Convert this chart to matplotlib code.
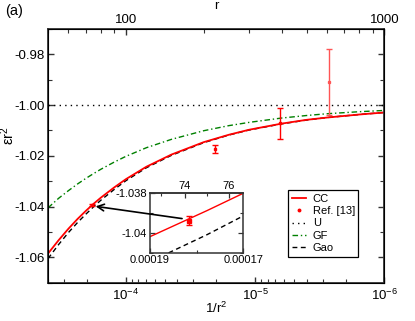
import numpy as np
import matplotlib
matplotlib.use('Agg')
import matplotlib.pyplot as plt
from matplotlib.ticker import MultipleLocator, NullFormatter, FixedLocator

plt.rcParams['font.family'] = ['Liberation Sans', 'DejaVu Sans']
plt.rcParams['mathtext.fontset'] = 'custom'
plt.rcParams['mathtext.rm'] = 'Liberation Sans'
plt.rcParams['mathtext.it'] = 'Liberation Sans:italic'
plt.rcParams['axes.unicode_minus'] = False
plt.rcParams['font.size'] = 9.5

r_grid = [50, 55, 60, 65, 70, 75, 80, 90, 100, 120, 150, 200, 250, 300, 400, 500, 600, 800, 1000]
cc = [-1.0585, -1.0532, -1.0487, -1.0449, -1.0417, -1.0389, -1.0365, -1.0325, -1.0292, -1.0243,
      -1.0195, -1.0146, -1.0117, -1.0097, -1.0073, -1.0058, -1.0049, -1.0037, -1.0029]
gao = [-1.0605, -1.0549, -1.0502, -1.0463, -1.0430, -1.0401, -1.0375, -1.0333, -1.0298, -1.0247,
       -1.0198, -1.0148, -1.0118, -1.0098, -1.0074, -1.0059, -1.0049, -1.0037, -1.0029]
gf = [-1.0405, -1.0367, -1.0337, -1.0311, -1.0289, -1.0270, -1.0253, -1.0225, -1.0202, -1.0168,
      -1.0135, -1.0101, -1.0081, -1.0068, -1.0051, -1.0041, -1.0034, -1.0026, -1.0021]
u_level = -1.0

# Ref. [13] points
ref_r = [74.2, 221, 396, 610]
ref_val = [-1.0394, -1.0172, -1.0072, -0.9910]
ref_err = [0.00023, 0.0016, 0.0060, 0.0130]

x = 1.0 / np.array(r_grid, dtype=float) ** 2
ref_x = 1.0 / np.array(ref_r, dtype=float) ** 2

red = '#ff0000'
green = '#008000'
spine_c = '#333333'

fig = plt.figure(figsize=(4.15, 3.21), dpi=100)
ax = fig.add_axes([0.1157, 0.1193, 0.8108, 0.7904])

ax.axhline(u_level, color='black', lw=1.0, ls=(0, (1, 3)), label='U')
ax.plot(x, gf, color=green, lw=1.0, ls=(0, (4, 2, 1, 2)), label='GF')
ax.plot(x, gao, color='black', lw=1.0, ls=(0, (3.5, 2.5)), label='Gao')
ax.plot(x, cc, color=red, lw=1.3, label='CC')
ax.errorbar(ref_x[:3], ref_val[:3], yerr=ref_err[:3], fmt='s', ms=1.6, color=red, ecolor=red,
            elinewidth=1.0, capsize=2, capthick=1.0)
ax.errorbar(ref_x[3:], ref_val[3:], yerr=ref_err[3:], fmt='s', ms=1.4, color='#ff5555',
            ecolor='#ff5555', elinewidth=1.0, capsize=2, capthick=1.0)
ax.plot([], [], 'o', ms=1.8, color=red, label='Ref. [13]')

ax.set_xscale('log')
ax.set_xlim(4.0e-4, 1e-6)
ax.set_ylim(-1.07, -0.97)
ax.yaxis.set_major_locator(MultipleLocator(0.02))
ax.yaxis.set_minor_locator(MultipleLocator(0.01))
ax.yaxis.set_major_formatter(plt.FuncFormatter(lambda v, p: '%.2f' % v))
ax.xaxis.set_minor_formatter(NullFormatter())
ax.tick_params(which='both', direction='in', right=True, top=False, color=spine_c)
ax.tick_params(which='major', length=4, width=1.0)
ax.tick_params(which='minor', length=2.6, width=0.8)
ax.tick_params(axis='y', pad=2.5)
ax.tick_params(axis='x', pad=4)
for s in ax.spines.values():
    s.set_linewidth(1.3)
    s.set_color(spine_c)

ax.set_xlabel('1/r$^2$', fontsize=9.5)
ax.xaxis.set_label_coords(0.5, -0.07)
ax.set_ylabel('εr$^2$', fontsize=10.5)
ax.yaxis.set_label_coords(-0.092, 0.578)

# top axis: r
ax2 = ax.twiny()
ax2.set_xscale('log')
ax2.set_xlim(50, 1000)
ax2.set_xticks([100, 1000])
ax2.set_xticklabels(['100', '1000'])
ax2.xaxis.set_minor_formatter(NullFormatter())
ax2.tick_params(which='both', direction='in', color=spine_c, pad=2)
ax2.tick_params(which='major', length=4, width=1.0)
ax2.tick_params(which='minor', length=2.6, width=0.8)
ax2.set_xlabel('r', labelpad=4)

handles, labels = ax.get_legend_handles_labels()
order = ['CC', 'Ref. [13]', 'U', 'GF', 'Gao']
hmap = dict(zip(labels, handles))
leg = ax.legend([hmap[k] for k in order], order, loc='lower left',
                bbox_to_anchor=(0.714, 0.1025), fontsize=8, frameon=True,
                fancybox=False, edgecolor='black', framealpha=1,
                handlelength=1.3, handletextpad=0.6, labelspacing=0.22,
                borderpad=0.3, borderaxespad=0)
leg.get_frame().set_linewidth(0.9)

# inset
ins = fig.add_axes([0.3614, 0.2128, 0.2253, 0.1875])
ins.plot(x, gao, color='black', lw=1.0, ls=(0, (3.5, 2.5)))
ins.plot(x, cc, color=red, lw=1.0)
ins.errorbar(ref_x[:1], ref_val[:1], yerr=ref_err[:1], fmt='s', ms=3, color=red,
             ecolor=red, elinewidth=1.0, capsize=2, capthick=1.0)
ins.set_xlim(1.9e-4, 1.7e-4)
ins.set_ylim(-1.041, -1.038)
ins.xaxis.set_major_locator(FixedLocator([1.9e-4, 1.7e-4]))
ins.xaxis.set_minor_locator(FixedLocator([1.8e-4]))
ins.set_xticklabels(['0.00019', '0.00017'])
ins.yaxis.set_major_locator(FixedLocator([-1.04, -1.038]))
ins.yaxis.set_minor_locator(FixedLocator([-1.039, -1.041]))
ins.set_yticklabels(['-1.04', '-1.038'])
ins.tick_params(which='both', direction='in', right=True, labelsize=8, color=spine_c, pad=2)
ins.tick_params(which='major', length=3.5, width=0.9)
ins.tick_params(which='minor', length=2.2, width=0.8)
for s in ins.spines.values():
    s.set_linewidth(1.1)
    s.set_color(spine_c)

sec = ins.secondary_xaxis('top', functions=(lambda v: 1 / np.sqrt(np.maximum(v, 1e-12)),
                                            lambda v: 1 / np.maximum(v, 1e-6) ** 2))
sec.xaxis.set_major_locator(FixedLocator([74, 76]))
sec.xaxis.set_minor_locator(FixedLocator([73, 75]))
sec.set_xticklabels(['74', '76'])
sec.tick_params(which='both', direction='in', labelsize=8, color=spine_c, pad=1)
sec.tick_params(which='major', length=3.5, width=0.9)
sec.tick_params(which='minor', length=2.2, width=0.8)
sec.spines['top'].set_linewidth(1.1)
sec.spines['top'].set_color(spine_c)

# arrow from inset point to main curve
ins.annotate('', xy=(1.714e-4, -1.0399), xycoords=ax.transData,
             xytext=(1.8314e-4, -1.0393), textcoords='data',
             arrowprops=dict(arrowstyle='->', color='black', lw=1.2,
                             shrinkA=0, shrinkB=0, mutation_scale=12),
             annotation_clip=False)

fig.text(0.012, 0.952, '(a)', fontsize=10.5)

fig.savefig('out.png', dpi=100)
